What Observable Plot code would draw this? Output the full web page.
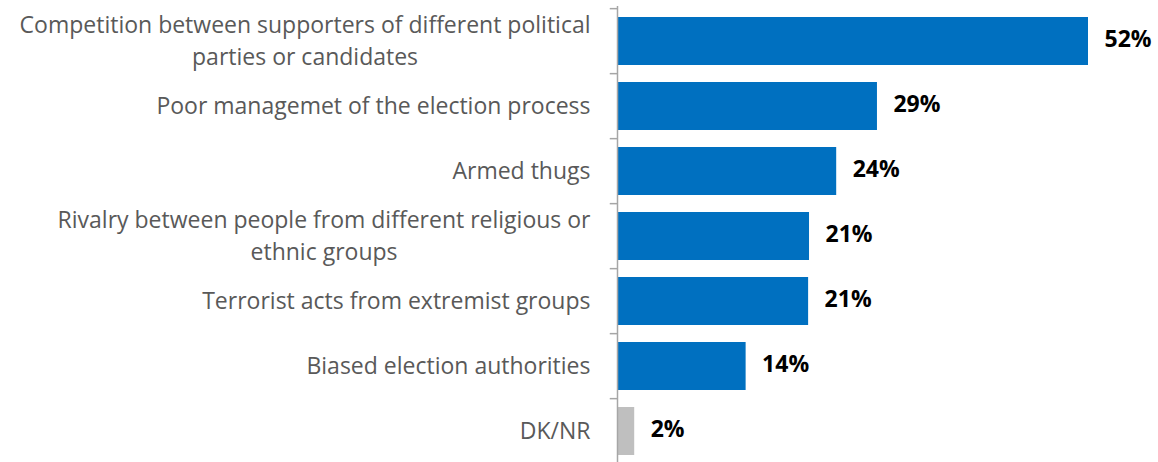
<!DOCTYPE html>
<html>
<head>
<meta charset="utf-8">
<script src="https://cdn.jsdelivr.net/npm/d3@7"></script>
<script src="https://cdn.jsdelivr.net/npm/@observablehq/plot@0.6"></script>
<style>
  html, body { margin: 0; padding: 0; background: #fff; overflow: hidden; }
  #chart svg { display: block; }
</style>
</head>
<body>
<div id="chart"></div>
<script>
const categories = [
  "Competition between supporters of different political\nparties or candidates",
  "Poor managemet of the election process",
  "Armed thugs",
  "Rivalry between people from different religious or\nethnic groups",
  "Terrorist acts from extremist groups",
  "Biased election authorities",
  "DK/NR"
];
// bar lengths; printed labels are rounded
const values = [52, 28.7, 24.2, 21.2, 21.1, 14.2, 1.9];
const valueLabels = ["52%", "29%", "24%", "21%", "21%", "14%", "2%"];

const data = categories.map((c, i) => ({category: c, value: values[i], label: valueLabels[i]}));

const BLUE = "#0070C0";
const GRAY = "#BFBFBF";
const FONT = "'Open Sans', sans-serif";

const H = 466, MT = 6, MB = 0;
const step = (H - MT - MB) / categories.length;

const chart = Plot.plot({
  width: 1158,
  height: H,
  marginLeft: 617,
  marginRight: 70,
  marginTop: MT,
  marginBottom: MB,
  style: {fontFamily: FONT, background: "#fff"},
  x: {domain: [0, 52], axis: null},
  y: {domain: categories, paddingInner: 0.26, paddingOuter: 0.13, axis: null},
  marks: [
    Plot.barX(data, {x: "value", y: "category", fill: d => d.category === "DK/NR" ? GRAY : BLUE}),
    Plot.ruleX([0], {stroke: "#A6A6A6", strokeWidth: 1.5}),
    Plot.ruleY(categories, {y: d => d, x1: -0.8, x2: 0, dy: -step / 2, stroke: "#A6A6A6", strokeWidth: 1.5}),
    Plot.text(data, {x: 0, y: "category", text: "category", textAnchor: "end", dx: -27, dy: -3,
      fontSize: 23, fill: "#595959", lineHeight: 1.43, className: "cat-labels"}),
    Plot.text(data, {x: "value", y: "category", text: "label", textAnchor: "start", dx: 16, dy: -2,
      fontSize: 23, fontWeight: "bold", fill: "#000"})
  ]
});

document.getElementById("chart").appendChild(chart);

// centre the lines of multi-line labels on each other, keeping the block right-aligned
d3.select(chart).selectAll(".cat-labels text").each(function() {
  const spans = this.querySelectorAll("tspan");
  if (spans.length < 2) return;
  let maxW = 0;
  spans.forEach(s => { maxW = Math.max(maxW, s.getComputedTextLength()); });
  this.setAttribute("text-anchor", "middle");
  spans.forEach(s => s.setAttribute("x", -maxW / 2));
});
</script>
</body>
</html>
